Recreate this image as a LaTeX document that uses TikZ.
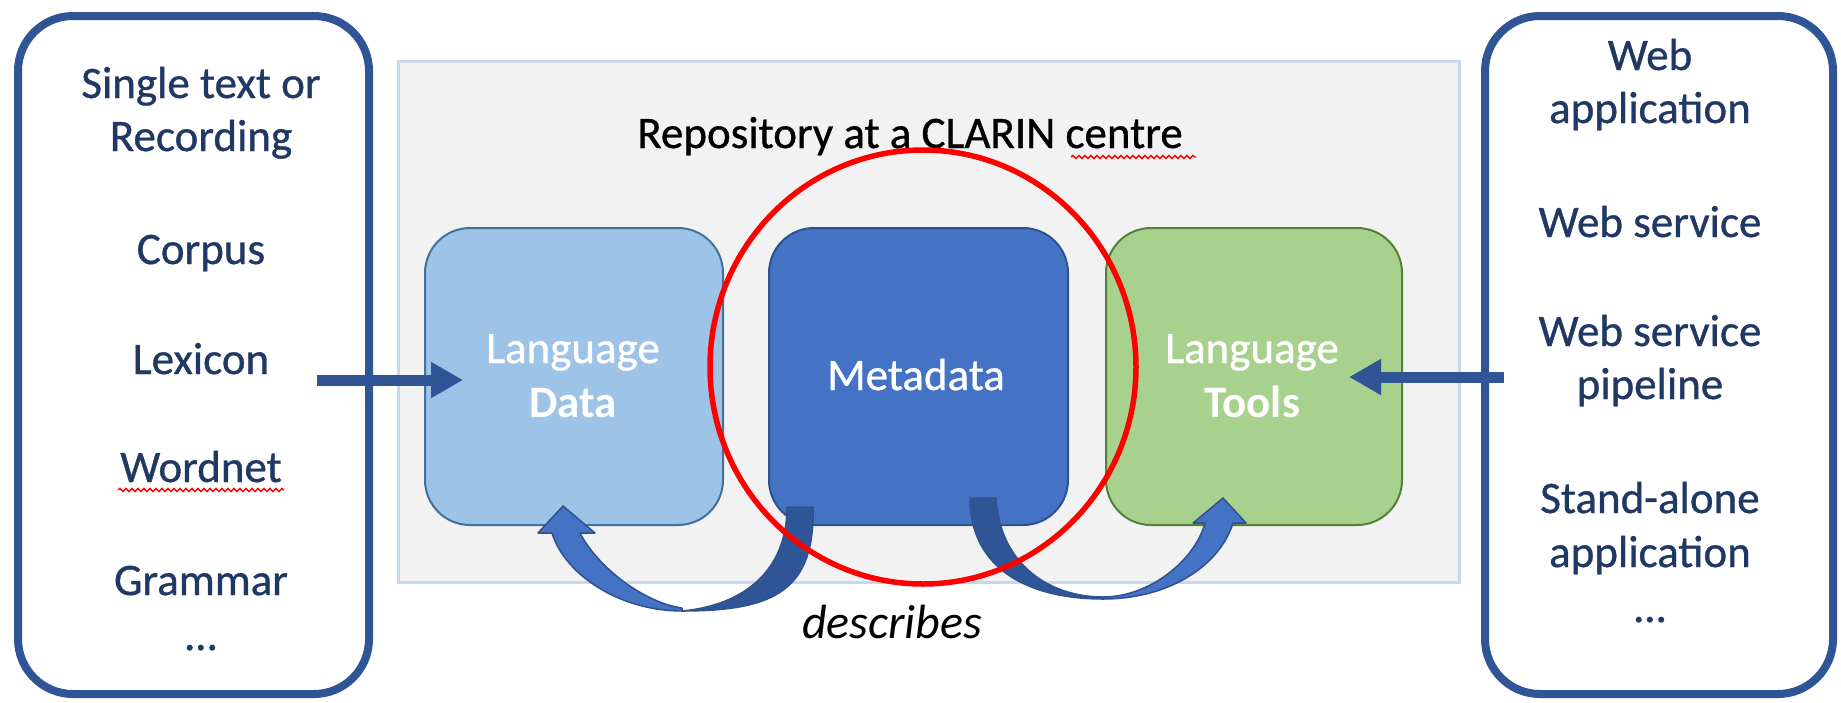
\documentclass[tikz,border=0pt]{standalone}
\usepackage{fontspec}
\setmainfont{Carlito}
\newfontface\heavy{Carlito}[RawFeature={embolden=0.8}]
\usetikzlibrary{arrows.meta,decorations.pathmorphing,calc}
\definecolor{navy}{HTML}{203864}
\definecolor{frame}{HTML}{2F5597}
\definecolor{lblue}{HTML}{9DC3E6}
\definecolor{lbluedge}{HTML}{41719C}
\definecolor{mblue}{HTML}{4472C4}
\definecolor{mbluedge}{HTML}{2F528F}
\definecolor{lgreen}{HTML}{A9D18E}
\definecolor{gedge}{HTML}{538135}
\definecolor{repofill}{HTML}{F2F2F2}
\definecolor{repoedge}{HTML}{C9D7EE}
\definecolor{darkarc}{HTML}{2F5597}
\definecolor{ringred}{HTML}{FF0000}
\begin{document}
\begin{tikzpicture}[x=1pt,y=-1pt,
  txt/.style={font=\fontsize{45}{54}\selectfont\heavy, inner sep=0pt, anchor=base},
  sidetxt/.style={txt, text=navy},
  boxtxt/.style={txt, text=white},
  boxbold/.style={font=\fontsize{45}{54}\selectfont\bfseries, inner sep=0pt, anchor=base, text=white},
  sidebox/.style={draw=frame, line width=8pt, rounded corners=55pt, fill=white, rectangle, inner sep=0pt},
  inbox/.style={rectangle, line width=2pt, rounded corners=45pt, inner sep=0pt, minimum height=297pt},
  repobox/.style={rectangle, draw=repoedge, fill=repofill, line width=3pt, inner sep=0pt},
  flowarrow/.style={draw=frame, line width=11pt, -{Triangle[width=34pt,length=32pt]}},
  arcfront/.style={fill=mblue, draw=mbluedge, line width=1.5pt, line join=round},
  arcback/.style={fill=darkarc, draw=mbluedge, line width=1.5pt, line join=round},
  squiggle/.style={draw=ringred, line width=1.4pt, decorate, decoration={snake, amplitude=1.6pt, segment length=6pt}},
  ring/.style={draw=ringred, line width=5.5pt}
]
\useasboundingbox (0,0) rectangle (1841,702);
\fill[white] (0,0) rectangle (1841,702);

% repository background
\node[repobox, minimum width=1061pt, minimum height=521pt] (repo) at (928.5,321.5) {};
\node[txt] (repotitle) at (910,148) {Repository at a CLARIN centre};
\coordinate (sqa) at (1071,157);
\coordinate (sqb) at (1196,157);
\draw[squiggle] (sqa) -- (sqb);

% side boxes
\node[sidebox, minimum width=351pt, minimum height=678pt] (left) at (193.5,355) {};
\node[sidebox, minimum width=348pt, minimum height=678pt] (right) at (1659,355) {};

% inner boxes
\node[inbox, fill=lblue, draw=lbluedge, minimum width=298pt] (data) at (574,376.5) {};
\node[inbox, fill=mblue, draw=mbluedge, minimum width=299pt] (meta) at (918.5,376.5) {};
\node[inbox, fill=lgreen, draw=gedge, minimum width=296pt] (tools) at (1254,376.5) {};

\node[boxtxt] (dataA) at (573,363) {Language};
\node[boxbold] (dataB) at (573,417) {Data};
\node[boxtxt] (metaT) at (916,390) {Metadata};
\node[boxtxt] (toolsA) at (1252,363) {Language};
\node[boxbold] (toolsB) at (1252,417) {Tools};

% left list
\node[sidetxt] (l1) at (201,98) {Single text or};
\node[sidetxt] (l2) at (201,151) {Recording};
\node[sidetxt] (l3) at (201,264) {Corpus};
\node[sidetxt] (l4) at (201,374) {Lexicon};
\node[sidetxt] (l5) at (201,482) {Wordnet};
\node[sidetxt] (l6) at (201,595) {Grammar};
\node[sidetxt] (l7) at (201,650) {…};
\draw[squiggle] ($(l5.base west)+(-2,8)$) -- ($(l5.base east)+(2,8)$);

% right list
\node[sidetxt] (r1) at (1650,70) {Web};
\node[sidetxt] (r2) at (1650,123) {application};
\node[sidetxt] (r3) at (1650,237) {Web service};
\node[sidetxt] (r4) at (1650,346) {Web service};
\node[sidetxt] (r5) at (1650,399) {pipeline};
\node[sidetxt] (r6) at (1650,513) {Stand-alone};
\node[sidetxt] (r7) at (1650,567) {application};
\node[sidetxt] (r8) at (1650,622) {…};

% straight arrows
\coordinate (la1) at (317,380);
\coordinate (la2) at (463,380);
\coordinate (ra1) at (1504,377);
\coordinate (ra2) at (1349,377);
\draw[flowarrow] (la1) -- (la2);
\draw[flowarrow] (ra1) -- (ra2);

% curved arrow: metadata -> data
\path[arcback] (787,507) -- (813,507) .. controls (815,590) and (775,611) .. (682,611)
   .. controls (745,605) and (787,570) .. (787,507) -- cycle;
\path[arcfront] (682,611) .. controls (620,611) and (565,575) .. (552,533)
   -- (538,533) -- (563,506) -- (595,533) -- (580,533)
   .. controls (598,568) and (645,603) .. (682,608) -- cycle;

% curved arrow: metadata -> tools
\path[arcback] (970,498) -- (996,498) .. controls (1000,565) and (1050,597) .. (1103,597)
   -- (1103,599) .. controls (1030,599) and (970,570) .. (970,498) -- cycle;
\path[arcfront] (1103,599) .. controls (1170,599) and (1220,565) .. (1233,523)
   -- (1246,523) -- (1223,498) -- (1193,523) -- (1205,523)
   .. controls (1195,560) and (1150,597) .. (1103,597) -- cycle;

\node[inner sep=0pt, anchor=base, font=\fontsize{48}{56}\selectfont\itshape] (describes) at (892,638) {describes};

% red ring
\draw[ring] (923,367) ellipse [x radius=213, y radius=217];
\end{tikzpicture}
\end{document}
